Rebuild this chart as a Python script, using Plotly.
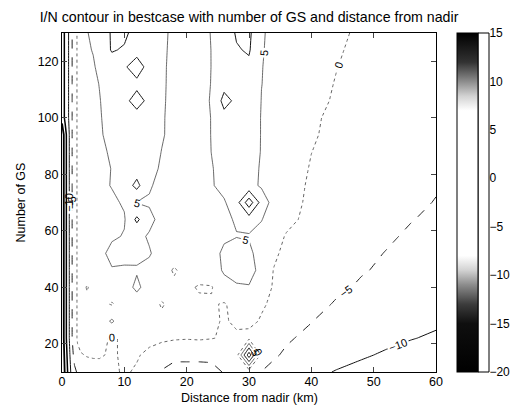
import plotly.graph_objects as go

# ---- data ----
distance_km = [0, 0.5, 1, 1.5, 2, 2.5, 3, 4, 5, 6, 8, 10, 12, 14, 16, 18, 20, 22, 24, 26,
               28, 30, 32, 34, 36, 40, 44, 48, 52, 56, 60]
num_gs = [10, 16, 22, 28, 34, 40, 46, 52, 58, 64, 70, 76, 82, 88, 94, 100, 106, 112, 118, 124, 130]

i_over_n = [
    [-26, -19, -14, -9, -6, -4.5, -3.5, -2.5, -2.0, -1.5, -0.8, 0.5, -0.5, -3.5, -5.3, -6.5, -6.5, -6.5, -6.0, -4.8, -3.5, -3.0, -5.1, -6.0, -7.0, -8.6, -10.3, -11.5, -12.6, -13.5, -14.2],
    [-25, -18, -13, -7.5, -3.5, -1.0, -0.4, 0.3, 0.5, 0.4, -0.5, 0.6, 0.4, -1.0, -3.0, -4.0, -4.0, -4.0, -4.2, -2.0, -2.0, 18, -2.0, -4.6, -5.5, -6.8, -8.0, -9.4, -10.6, -11.6, -12.5],
    [-24, -17, -12, -6, -2, 0.5, 2, 1.5, 1.2, 1.0, -0.4, 0.5, 1.0, 1.2, 1.0, 0.5, 0.3, 0.5, 0.2, -0.5, -0.5, -1.0, -1.5, -3.0, -4.6, -5.8, -6.9, -7.9, -8.8, -9.8, -10.6],
    [-24, -17, -12, -6, -2, 0.5, 2, 1.5, 1.8, 2.0, 5.7, 1.5, 1.2, 1.0, 0.8, 1.0, 1.2, 1.0, 0.6, -0.3, 0.5, 0.8, -0.3, -1.4, -2.5, -4.9, -6.3, -7.3, -8.1, -8.8, -9.3],
    [-24, -17, -12, -6, -2, 0.5, 2, 1.0, 1.5, 1.2, -0.3, 1.5, 2.0, 1.5, -0.3, 1.0, 1.2, 0.8, 0.5, -0.4, 1.5, 1.8, 0.4, -0.6, -1.6, -3.5, -5.4, -6.4, -7.2, -7.9, -8.5],
    [-24, -17, -12, -6, -2, 0.5, 2, -0.3, 1.0, 1.5, 2.0, 2.5, 6.2, 2.5, 1.5, 1.2, 0.8, -0.4, -0.3, 3.5, 4.2, 4.3, 1.0, -0.2, -1.1, -2.6, -4.2, -5.5, -6.3, -7.0, -7.6],
    [-24, -17, -12, -6, -2, 0.5, 2, 2.0, 2.5, 3.0, 4.6, 4.2, 4.5, 4.0, 2.5, -0.6, 2.0, 2.2, 3.0, 5.5, 7.5, 9.0, 1.6, -0.1, -0.9, -2.3, -3.5, -4.7, -5.6, -6.3, -7.0],
    [-24, -17, -12, -6, -2, 0.5, 2, 2.5, 3.0, 3.5, 6.5, 6.8, 6.2, 5.3, 3.5, 2.5, 2.2, 2.5, 3.0, 6.0, 8.0, 6.5, 2.0, 0.4, -0.6, -2.0, -3.2, -4.3, -5.1, -5.9, -6.6],
    [-24, -17, -12, -6, -2, 0.5, 2, 2.6, 3.0, 3.5, 4.3, 5.3, 6.0, 4.6, 3.5, 3.0, 2.2, 2.5, 3.0, 4.2, 4.8, 4.5, 3.5, 1.5, -0.3, -1.5, -2.7, -3.8, -4.6, -5.4, -6.1],
    [-24, -17, -12, -6, -2, 0.5, 2, 2.7, 3.0, 3.3, 3.5, 4.6, 11.0, 6.0, 3.8, 3.0, 2.0, 2.3, 3.2, 4.0, 5.5, 7.5, 5.2, 2.5, 1.0, -1.1, -2.3, -3.3, -4.2, -4.9, -5.5],
    [-24, -17, -12, -6, -2, 0.5, 2, 2.8, 3.2, 3.6, 4.2, 5.5, 4.8, 4.6, 3.5, 3.2, 2.0, 2.3, 3.5, 4.5, 8.0, 18.0, 8.0, 3.0, 1.5, -0.8, -2.0, -3.0, -3.8, -4.5, -5.1],
    [-24, -17, -12, -6, -2, 0.5, 2, 2.8, 3.5, 4.0, 5.2, 7.0, 11.5, 5.4, 3.9, 3.4, 2.0, 2.3, 4.6, 6.5, 7.0, 6.5, 4.4, 3.0, 1.8, -0.6, -1.8, -2.8, -3.6, -4.3, -4.8],
    [-24, -17, -12, -6, -2, 0.5, 2, 2.9, 3.4, 4.0, 5.1, 6.8, 7.5, 6.5, 4.4, 3.5, 2.1, 2.4, 4.7, 6.8, 7.2, 6.5, 4.6, 3.3, 2.2, -0.3, -1.6, -2.6, -3.4, -4.2, -4.7],
    [-24, -17, -12, -6, -2, 0.5, 2, 3.0, 3.5, 4.2, 5.5, 7.0, 7.5, 7.0, 4.9, 3.6, 2.2, 2.5, 5.1, 7.0, 7.5, 7.0, 4.8, 3.5, 2.4, 0.05, -1.4, -2.4, -3.3, -4.0, -4.6],
    [-24, -17, -12, -6, -2, 0.5, 2, 3.0, 3.6, 4.4, 6.5, 7.5, 7.5, 7.5, 5.4, 3.7, 2.3, 2.6, 5.2, 7.5, 8.0, 7.5, 4.8, 3.7, 2.7, 0.5, -1.2, -2.2, -3.1, -3.9, -4.5],
    [-18, -14, -10.5, -6, -2, 0.5, 2, 3.2, 3.8, 4.6, 6.8, 8.0, 8.5, 8.0, 5.4, 3.8, 2.4, 2.7, 5.2, 8.5, 8.0, 7.5, 4.8, 3.8, 2.9, 0.7, -1.0, -2.0, -2.9, -3.7, -4.4],
    [-18, -14, -10.5, -6, -2, 0.5, 2, 3.3, 4.0, 4.8, 7.0, 9.0, 11.5, 9.0, 5.5, 3.9, 2.5, 2.8, 5.5, 11.5, 9.0, 8.5, 4.9, 4.0, 3.2, 1.3, -0.5, -1.6, -2.6, -3.5, -4.2],
    [-18, -14, -10.5, -6, -2, 0.5, 2, 3.5, 4.2, 5.1, 7.5, 8.5, 9.0, 8.0, 5.6, 3.9, 2.6, 2.9, 5.2, 8.5, 8.5, 8.0, 5.05, 4.1, 3.3, 1.5, -0.2, -1.4, -2.4, -3.3, -4.1],
    [-18, -14, -10.5, -6, -2, 0.5, 2, 3.8, 4.3, 6.5, 7.5, 9.5, 12.0, 8.5, 5.6, 4.0, 2.7, 3.0, 5.1, 6.8, 8.0, 9.0, 5.1, 4.2, 3.5, 1.8, 0.1, -1.2, -2.2, -3.1, -4.0],
    [-18, -14, -10.5, -6, -2, 0.5, 2, 4.2, 5.3, 6.8, 10.4, 9.5, 8.5, 7.5, 5.7, 4.1, 2.8, 3.2, 5.1, 7.0, 9.6, 10.5, 5.2, 4.3, 3.6, 2.0, 0.4, -0.9, -1.9, -2.9, -3.8],
    [-18, -14, -10.5, -6, -2, 0.5, 2, 4.8, 5.8, 7.0, 10.5, 11.0, 8.0, 7.5, 5.8, 4.2, 3.0, 3.5, 5.2, 7.0, 10.5, 11.0, 5.3, 4.3, 3.5, 2.0, 0.7, -0.6, -1.6, -2.6, -3.5],
]

levels = [-20, -15, -10, -5, 0, 5, 10, 15]
x_ticks = [0, 10, 20, 30, 40, 50, 60]
y_ticks = [20, 40, 60, 80, 100, 120]
cbar_ticks = [-20, -15, -10, -5, 0, 5, 10, 15]

# ---- styling ----
FONT = "Liberation Sans, Arial, Helvetica, sans-serif"
level_style = {
    -20: dict(color="#000000", width=1.8, dash="solid"),
    -15: dict(color="#000000", width=1.5, dash="solid"),
    -10: dict(color="#111111", width=1.0, dash="solid"),
    -5: dict(color="#222222", width=1.0, dash="dash"),
    0: dict(color="#666666", width=1.0, dash="dot"),
    5: dict(color="#444444", width=0.8, dash="solid"),
    10: dict(color="#111111", width=1.0, dash="solid"),
    15: dict(color="#000000", width=1.0, dash="solid"),
}

gray_scale = [
    [0.0, "rgb(0,0,0)"],
    [0.143, "rgb(15,15,15)"],
    [0.2, "rgb(60,60,60)"],
    [0.257, "rgb(140,140,140)"],
    [0.3, "rgb(210,210,210)"],
    [0.343, "rgb(255,255,255)"],
    [0.771, "rgb(255,255,255)"],
    [0.814, "rgb(210,210,210)"],
    [0.857, "rgb(140,140,140)"],
    [0.914, "rgb(50,50,50)"],
    [1.0, "rgb(0,0,0)"],
]

fig = go.Figure()
for lv in levels:
    st = level_style[lv]
    fig.add_trace(go.Contour(
        x=distance_km, y=num_gs, z=i_over_n,
        autocontour=False,
        contours=dict(start=lv, end=lv + 0.01, size=5, coloring="none",
                      showlabels=True,
                      labelfont=dict(size=11, color="black", family=FONT)),
        line=dict(color=st["color"], width=st["width"], dash=st["dash"], smoothing=0),
        showscale=False, hoverinfo="skip",
    ))

# plot-area geometry in pixels
PL, PR, PT, PB = 62, 436, 33, 372
pw, ph = PR - PL, PB - PT

# colour bar (gray-scanned colormap)
fig.add_trace(go.Scatter(
    x=[None], y=[None], mode="markers", showlegend=False, hoverinfo="skip",
    marker=dict(color=[0], cmin=cbar_ticks[0], cmax=cbar_ticks[-1], colorscale=gray_scale,
                showscale=True,
                colorbar=dict(thickness=21, thicknessmode="pixels", len=1, lenmode="fraction",
                              y=0.5, yanchor="middle", x=(457 - PL) / pw, xanchor="left",
                              xpad=0, ypad=0, outlinecolor="black", outlinewidth=1,
                              tickvals=cbar_ticks, ticks="outside", ticklen=9,
                              tickcolor="rgba(0,0,0,0)",
                              tickfont=dict(size=12, color="black", family=FONT))),
))

fig.add_shape(type="rect", xref="paper", yref="paper",
              x0=(478 - PL) / pw, x1=(489 - PL) / pw, y0=0, y1=1,
              line=dict(color="black", width=1), fillcolor="white", layer="above")

fig.update_layout(
    width=525, height=407,
    margin=dict(l=PL, r=525 - PR, t=PT, b=407 - PB),
    paper_bgcolor="white", plot_bgcolor="white",
    font=dict(family=FONT, size=12, color="black"),
    showlegend=False,
    hovermode=False,
    title=dict(text="I/N contour in bestcase with number of GS and distance from nadir",
               x=0.5, xref="paper", xanchor="center",
               y=1 - 17 / 407, yref="container", yanchor="middle",
               font=dict(size=14.2, family=FONT, color="black")),
    xaxis=dict(range=[0, 60], tickvals=x_ticks, ticks="inside", ticklen=5,
               showline=True, mirror="ticks", linecolor="black", linewidth=1,
               showgrid=False, zeroline=False, automargin=False,
               ticklabelstandoff=-2, tickfont=dict(size=12.5)),
    yaxis=dict(range=[10, 130], tickvals=y_ticks, ticks="inside", ticklen=5,
               showline=True, mirror="ticks", linecolor="black", linewidth=1,
               showgrid=False, zeroline=False, automargin=False,
               tickfont=dict(size=12.5)),
    annotations=[
        dict(text="Distance from nadir (km)", xref="paper", yref="paper",
             x=0.5, y=-(398 - PB) / ph, xanchor="center", yanchor="middle",
             showarrow=False, font=dict(size=12.5, family=FONT, color="black")),
        dict(text="Number of GS", xref="paper", yref="paper",
             x=-(62 - 20) / pw, y=0.5, xanchor="center", yanchor="middle",
             textangle=-90, showarrow=False,
             font=dict(size=12.5, family=FONT, color="black")),
    ],
)

# remove the browser's default 8px page margin so the figure sits at the window origin
fig.write_html("out.html",
               config={"displayModeBar": False},
               post_script="document.body.style.margin='0px';document.body.style.overflow='hidden';")
